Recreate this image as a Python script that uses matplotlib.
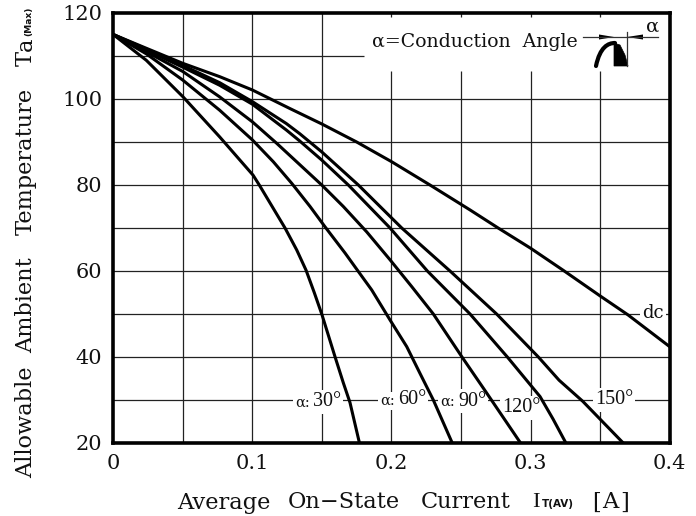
import matplotlib
matplotlib.use("Agg")
import matplotlib.pyplot as plt
from matplotlib.patches import Polygon, PathPatch
from matplotlib.path import Path

SERIF = "DejaVu Serif"

x_30 = [0, 0.0238, 0.0502, 0.0765, 0.1005, 0.105, 0.1235, 0.1319, 0.1386, 0.1445, 0.1501, 0.1594, 0.1654, 0.1702, 0.177]
y_30 = [115, 109.0, 100.5, 91.2, 82.3, 80, 70, 64.9, 60.2, 55, 49.8, 40.1, 34, 29.4, 20]
x_60 = [0, 0.0238, 0.05, 0.0765, 0.1, 0.1151, 0.1283, 0.1415, 0.1522, 0.1666, 0.1755, 0.1858, 0.199, 0.211, 0.2205, 0.2301, 0.2437]
y_60 = [115, 110.5, 104.4, 97.4, 90.5, 85.4, 80.4, 75, 70.3, 64.2, 60.2, 55.6, 48.6, 42.4, 36.2, 30, 20]
x_90 = [0, 0.0238, 0.05, 0.0765, 0.1, 0.1175, 0.1342, 0.1499, 0.1654, 0.1822, 0.199, 0.2145, 0.2301, 0.2505, 0.2685, 0.2928]
y_90 = [115, 111, 106.4, 100.5, 94.7, 89.7, 84.7, 80, 75, 69.1, 62.6, 56.4, 50, 40.1, 31.6, 20]
x_120 = [0, 0.0238, 0.05, 0.0765, 0.1, 0.1244, 0.1342, 0.1499, 0.169, 0.199, 0.2258, 0.2565, 0.2833, 0.3068, 0.3161, 0.3254]
y_120 = [115, 111.4, 107.4, 103.2, 98.8, 92.8, 90.2, 85.8, 80, 70, 60, 50, 40, 30.8, 25.6, 20]
x_150 = [0, 0.0238, 0.05, 0.0765, 0.1, 0.1244, 0.1342, 0.1499, 0.1762, 0.2074, 0.2421, 0.2756, 0.3056, 0.3205, 0.3375, 0.3666]
y_150 = [115, 111.6, 107.8, 103.8, 99.4, 94.3, 91.9, 87.7, 80, 70, 60, 50, 40, 34.6, 29.7, 20]
x_dc = [0, 0.0238, 0.05, 0.0765, 0.1, 0.1269, 0.1499, 0.175, 0.2002, 0.2277, 0.2565, 0.2767, 0.30, 0.3233, 0.35, 0.37, 0.4]
y_dc = [115, 111.8, 108.3, 105.2, 102.1, 97.8, 94.2, 90, 85.4, 80, 74.2, 70, 65.3, 60.2, 54.2, 49.8, 42.4]
series = [(x_30, y_30), (x_60, y_60), (x_90, y_90), (x_120, y_120), (x_150, y_150), (x_dc, y_dc)]

x_ticks = [0, 0.1, 0.2, 0.3, 0.4]
x_tick_labels = ["0", "0.1", "0.2", "0.3", "0.4"]
y_ticks = [20, 40, 60, 80, 100, 120]
y_grid = [30, 40, 50, 60, 70, 80, 90, 100]
x_grid_full = [0.05, 0.1, 0.15]
x_grid_gap = [0.2, 0.25, 0.3, 0.35]

W, H = 696, 516
fig = plt.figure(figsize=(W / 100, H / 100), dpi=100)
L, R, T, B = 113.2, 669.7, 13, 443
ax = fig.add_axes([L / W, 1 - B / H, (R - L) / W, (B - T) / H])
ax.set_xlim(0, 0.4)
ax.set_ylim(20, 120)

GRID = dict(colors="#222222", linewidth=0.9, zorder=1)
ax.hlines(y_grid, 0, 0.4, **GRID)
ax.hlines([110], 0, 0.18, **GRID)
ax.vlines(x_grid_full, 20, 120, **GRID)
ax.vlines(x_grid_gap, 20, 106.5, **GRID)
ax.vlines(x_grid_gap, 119, 120, **GRID)

for xs, ys in series:
    ax.plot(xs, ys, color="black", linewidth=2.2, zorder=3,
            solid_joinstyle="round", solid_capstyle="butt")

for s in ax.spines.values():
    s.set_linewidth(2.6)
    s.set_zorder(5)

ax.set_xticks(x_ticks)
ax.set_xticklabels(x_tick_labels)
ax.set_yticks(y_ticks)
ax.tick_params(length=0, labelsize=15, pad=8)
for t in ax.get_xticklabels() + ax.get_yticklabels():
    t.set_fontfamily(SERIF)
    t.set_color("#111111")


def ptext(px, py, s, size, family=SERIF, ha="left", va="center", **kw):
    return fig.text(px / W, 1 - py / H, s, fontsize=size, family=family, ha=ha, va=va,
                    color="#111111", **kw)


# axis titles, word by word for the wide spacing of the original
LBL = 16.2
ptext(177, 500, "Average", LBL, va="center_baseline")
ptext(288, 500, "On\u2212State", LBL, va="center_baseline")
ptext(421, 500, "Current", LBL, va="center_baseline")
ptext(532, 500, "I", LBL, family="Liberation Serif", va="center_baseline")
ptext(542, 504, "T(AV)", 7.5, family="DejaVu Sans", weight="bold")
ptext(592, 500, "[", LBL, va="center_baseline")
ptext(602, 500, "A", LBL, va="center_baseline")
ptext(620, 500, "]", LBL, va="center_baseline")

YK = dict(rotation=90, ha="center", va="bottom", rotation_mode="default")
ptext(26, 478, "Allowable", LBL, **YK)
ptext(26, 353, "Ambient", LBL, **YK)
ptext(26, 235, "Temperature", LBL, **YK)
ptext(26, 66, "T", LBL, **YK)
ptext(26, 51, "a", LBL, **YK)
ptext(29, 36, "(Max)", 6.6, family="DejaVu Sans", weight="bold", **YK)

# curve labels
W_BOX = dict(facecolor="white", edgecolor="none", pad=1.5)


def dtext(px, py, s, size, family="Liberation Serif"):
    xd = (px - L) / (R - L) * 0.4
    yd = 20 + (B - py) / (B - T) * 100
    ax.text(xd, yd, s, fontsize=size, family=family, va="center", ha="left", color="#111111",
            zorder=2, bbox=W_BOX)


for ax_px, num_px, py, lab in [(295, 313, 403, "30\u00b0"), (380, 398, 401, "60\u00b0"), (440, 458, 402, "90\u00b0")]:
    dtext(ax_px, py, "\u03b1:", 10.5, family=SERIF)
    dtext(num_px, py - 1, lab, 14.5)
dtext(502, 408, "120\u00b0", 14.5)
dtext(595, 400, "150\u00b0", 14.5)
dtext(642, 313, "dc", 13, family=SERIF)

ptext(372, 42, "\u03b1=Conduction  Angle", 13.6)
ptext(653, 27, "\u03b1", 14, ha="center")

# conduction-angle icon
ov = fig.add_axes([0, 0, 1, 1], facecolor="none")
ov.set_axis_off()
ov.set_xlim(0, W)
ov.set_ylim(H, 0)
ov.set_zorder(6)
arc = Path([(596, 66), (600, 47), (608, 43), (615, 43)], [Path.MOVETO, Path.CURVE4, Path.CURVE4, Path.CURVE4])
ov.add_patch(PathPatch(arc, fill=False, edgecolor="black", linewidth=3, capstyle="round"))
ov.add_patch(Polygon([(614, 43), (620, 45), (625, 55), (628, 66), (614, 66)], closed=True,
                     facecolor="black", edgecolor="black", linewidth=0.5))
ov.plot([583, 658], [36.7, 36.7], color="#333333", linewidth=0.9)
ov.plot([626.7, 626.7], [32, 66], color="#333333", linewidth=0.9)
ov.add_patch(Polygon([(599, 34.5), (614, 37), (599, 39.5)], closed=True, facecolor="black", edgecolor="none"))
ov.add_patch(Polygon([(627, 37), (643, 34.5), (643, 39.5)], closed=True, facecolor="black", edgecolor="none"))

fig.savefig("out.png", dpi=100)
